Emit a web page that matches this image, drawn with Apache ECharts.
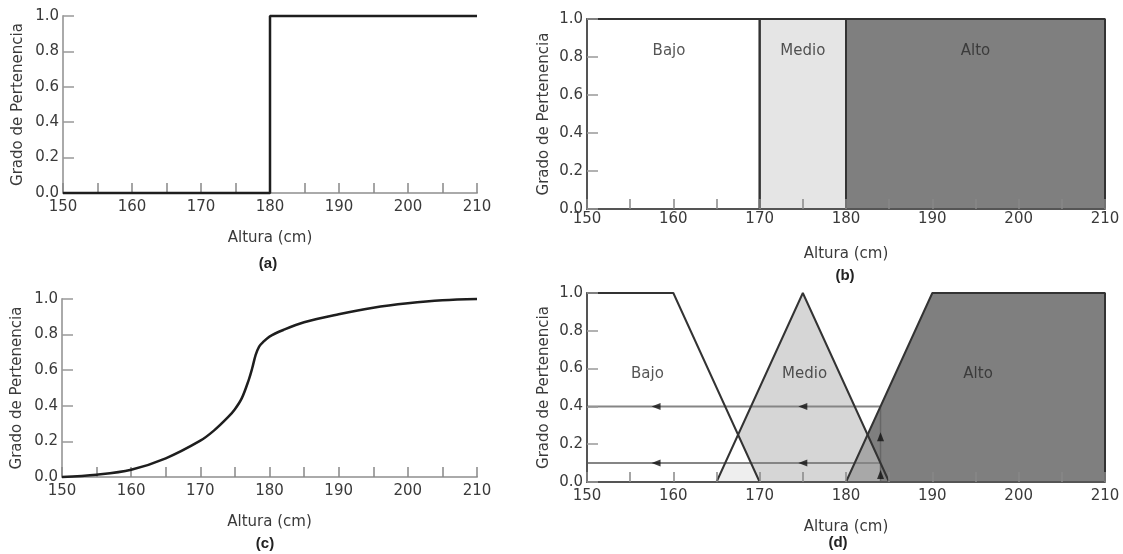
<!DOCTYPE html>
<html>
<head>
<meta charset="utf-8">
<script src="https://cdn.jsdelivr.net/npm/echarts@6/dist/echarts.min.js"></script>
<style>
html,body{margin:0;padding:0;background:#fff;}
#chart{width:1123px;height:554px;}
</style>
</head>
<body>
<div id="chart"></div>
<script>
// ---------- data ----------
// (a) crisp set "Alto"
const crispX = [150, 180, 180, 210];
const crispY = [0, 0, 1, 1];
// (b) crisp partition
const bajoBX = [150, 150, 170, 170];
const bajoBY = [0, 1, 1, 0];
const medioBX = [170, 170, 180, 180];
const medioBY = [0, 1, 1, 0];
const altoBX = [180, 180, 210, 210];
const altoBY = [0, 1, 1, 0];
// (c) fuzzy membership curve
const sigX = [150, 155, 160, 165, 170, 172, 174, 175, 176, 177, 177.5, 178, 178.5, 179, 180, 182, 185, 190, 195, 200, 205, 210];
const sigY = [0, 0.013, 0.041, 0.105, 0.204, 0.262, 0.336, 0.381, 0.443, 0.546, 0.611, 0.686, 0.733, 0.755, 0.789, 0.826, 0.869, 0.914, 0.951, 0.976, 0.993, 1.0];
// (d) fuzzy partition
const bajoDX = [150, 150, 160, 170];
const bajoDY = [0, 1, 1, 0];
const medioDX = [165, 175, 185];
const medioDY = [0, 1, 0];
const altoDX = [180, 190, 210, 210];
const altoDY = [0, 1, 1, 0];
const overlapLowX = [165, 166, 169, 170];
const overlapLowY = [0, 0.1, 0.1, 0];
const overlapHighX = [180, 182.5, 184, 184];
const overlapHighY = [0, 0.25, 0.1, 0];
const inputHeight = 184;
const grades = [0.4, 0.1];
const leftArrowX = [158, 175];
const upArrowY = [0.04, 0.24];
// set labels
const setNames = ['Bajo', 'Medio', 'Alto'];
const labelBX = [159.5, 175, 195];
const labelBY = 0.83;
const labelDX = [157, 175.2, 195.3];
const labelDY = 0.57;
// texts
const xName = 'Altura (cm)';
const yName = 'Grado de Pertenencia';
const panelTags = ['(a)', '(b)', '(c)', '(d)'];

// ---------- helpers ----------
const zip = (xs, ys) => xs.map((x, i) => [x, ys[i]]);
const FONT = 'DejaVu Sans';
const TXT = '#3a3a3a';

function xAxisCfg(idx, dark, margin) {
  return {
    type: 'value', gridIndex: idx, min: 150, max: 210, interval: 5, z: dark ? 5 : 0,
    name: xName, nameLocation: 'middle', nameGap: 38,
    nameTextStyle: { fontFamily: FONT, fontSize: 15, color: TXT },
    axisLine: { show: true, lineStyle: { color: dark ? '#555' : '#aaa', width: 2 } },
    axisTick: { show: true, inside: true, length: 10, lineStyle: { color: '#888', width: 1.5 } },
    axisLabel: {
      fontFamily: FONT, fontSize: 15, color: TXT, margin: margin,
      formatter: v => (v % 10 === 0 ? String(v) : '')
    },
    splitLine: { show: false }
  };
}
function yAxisCfg(idx, dark, gap) {
  return {
    type: 'value', gridIndex: idx, min: 0, max: 1, interval: 0.2, z: dark ? 5 : 0,
    name: yName, nameLocation: 'middle', nameGap: gap,
    nameTextStyle: { fontFamily: FONT, fontSize: 15, color: TXT },
    axisLine: { show: true, lineStyle: { color: dark ? '#555' : '#aaa', width: 2 } },
    axisTick: { show: true, inside: true, length: 11, lineStyle: { color: '#999', width: 1.5 } },
    axisLabel: { fontFamily: FONT, fontSize: 15, color: TXT, margin: 4, formatter: v => v.toFixed(1) },
    splitLine: { show: false }
  };
}
function fill(idx, xs, ys, color, z) {
  return {
    type: 'line', xAxisIndex: idx, yAxisIndex: idx, data: zip(xs, ys), z: z || 2,
    showSymbol: false, symbol: 'none', silent: true, clip: false,
    lineStyle: { width: 0, opacity: 0 }, areaStyle: { color: color, opacity: 1 }
  };
}
function stroke(idx, xs, ys, color, width, z, smooth) {
  return {
    type: 'line', xAxisIndex: idx, yAxisIndex: idx, data: zip(xs, ys), z: z || 3,
    showSymbol: false, symbol: 'none', silent: true, smooth: smooth || false, clip: false,
    lineStyle: { color: color, width: width }
  };
}
function labels(idx, xs, y) {
  return {
    type: 'scatter', xAxisIndex: idx, yAxisIndex: idx, z: 6, symbolSize: 0, silent: true,
    itemStyle: { color: 'rgba(0,0,0,0)' },
    data: setNames.map((n, i) => ({ name: n, value: [xs[i], y] })),
    label: { show: true, position: 'inside', formatter: '{b}', fontFamily: FONT, fontSize: 15, color: '#2a2a2a' }
  };
}

const grids = [
  { left: 63, top: 16, width: 414, height: 177 },
  { left: 587, top: 19, width: 518, height: 190 },
  { left: 62, top: 299, width: 415, height: 178 },
  { left: 587, top: 293, width: 518, height: 189 }
];

const series = [];
// (a)
series.push(stroke(0, crispX, crispY, '#1e1e1e', 2.5));
// (b)
series.push(fill(1, bajoBX, bajoBY, '#ffffff'));
series.push(fill(1, medioBX, medioBY, '#e5e5e5'));
series.push(fill(1, altoBX, altoBY, '#7f7f7f'));
series.push(stroke(1, bajoBX, bajoBY, '#333', 2));
series.push(stroke(1, medioBX, medioBY, '#333', 2));
series.push(stroke(1, altoBX, altoBY, '#333', 2));
series.push(labels(1, labelBX, labelBY));
// (c)
series.push(stroke(2, sigX, sigY, '#1e1e1e', 2.5, 3, 0.35));
// (d)
series.push(fill(3, medioDX, medioDY, '#d6d6d6', 2));
series.push(fill(3, bajoDX, bajoDY, '#ffffff', 2));
series.push(fill(3, overlapLowX, overlapLowY, '#eeeeee', 2));
series.push(fill(3, altoDX, altoDY, '#7f7f7f', 2));
series.push(fill(3, overlapHighX, overlapHighY, '#a8a8a8', 2));
grades.forEach(g => {
  series.push(stroke(3, [inputHeight, 150], [g, g], '#858585', 2, 3));
});
series.push(stroke(3, [inputHeight, inputHeight], [0, grades[0]], '#666', 1.5, 3));
series.push(stroke(3, bajoDX, bajoDY, '#333', 2, 4));
series.push(stroke(3, medioDX, medioDY, '#333', 2, 4));
series.push(stroke(3, altoDX, altoDY, '#333', 2, 4));
// arrows
const leftArrows = [];
grades.forEach(g => leftArrowX.forEach(x => leftArrows.push([x, g])));
series.push({
  type: 'scatter', xAxisIndex: 3, yAxisIndex: 3, z: 5, silent: true,
  symbol: 'triangle', symbolSize: [7, 9], symbolRotate: 90,
  itemStyle: { color: '#111' }, data: leftArrows
});
series.push({
  type: 'scatter', xAxisIndex: 3, yAxisIndex: 3, z: 5, silent: true,
  symbol: 'triangle', symbolSize: [7, 9],
  itemStyle: { color: '#111' }, data: upArrowY.map(y => [inputHeight, y])
});
series.push(labels(3, labelDX, labelDY));

const tagPos = [[268, 264], [845, 276], [265, 544], [838, 543]];
const graphic = panelTags.map((t, i) => ({
  type: 'text', x: tagPos[i][0], y: tagPos[i][1], z: 10,
  style: { text: t, font: 'bold 15px "Liberation Sans"', fill: '#222', align: 'center', verticalAlign: 'middle' }
}));

const option = {
  animation: false,
  backgroundColor: '#ffffff',
  grid: grids,
  xAxis: [xAxisCfg(0, false, 7), xAxisCfg(1, true, 3), xAxisCfg(2, false, 7), xAxisCfg(3, true, 7)],
  yAxis: [yAxisCfg(0, false, 37), yAxisCfg(1, true, 35), yAxisCfg(2, false, 37), yAxisCfg(3, true, 35)],
  series: series,
  graphic: graphic
};

const chart = echarts.init(document.getElementById('chart'), null, { renderer: 'canvas' });
chart.setOption(option);
</script>
</body>
</html>
